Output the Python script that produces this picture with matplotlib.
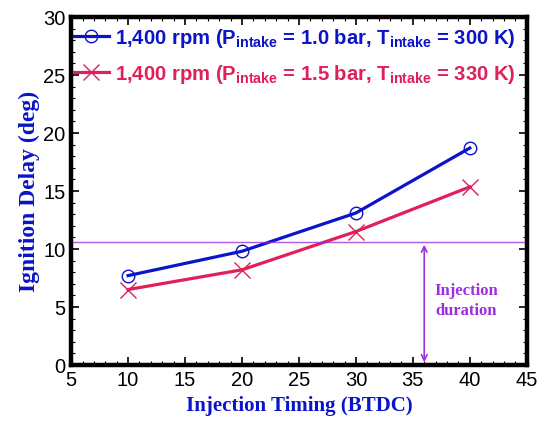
import matplotlib.pyplot as plt
from matplotlib.ticker import MultipleLocator

# Data
timing = [10, 20, 30, 40]
delay_1bar = [7.7, 9.8, 13.1, 18.7]
delay_15bar = [6.5, 8.2, 11.5, 15.35]
inj_level = 10.6
inj_x = 36

plt.rcParams['font.family'] = ['Liberation Sans', 'DejaVu Sans']
plt.rcParams['mathtext.fontset'] = 'custom'
plt.rcParams['mathtext.rm'] = 'Liberation Sans:bold'
plt.rcParams['mathtext.bf'] = 'Liberation Sans:bold'

blue = '#0a14c8'
red = '#e0205a'
purple = '#9a2ee0'

fig = plt.figure(figsize=(5.47, 4.27), dpi=100)
ax = fig.add_axes([0.130, 0.143, 0.833, 0.815])

ax.plot(timing, delay_1bar, color=blue, lw=2.3, marker='o', ms=9, mfc='none',
        mec=blue, mew=1.0,
        label=r'1,400 rpm (P$_{\mathrm{intake}}$ = 1.0 bar, T$_{\mathrm{intake}}$ = 300 K)')
ax.plot(timing, delay_15bar, color=red, lw=2.3, marker='x', ms=11, mew=1.0,
        label=r'1,400 rpm (P$_{\mathrm{intake}}$ = 1.5 bar, T$_{\mathrm{intake}}$ = 330 K)')

ax.axhline(inj_level, color=purple, lw=1.0, alpha=0.8)
ax.annotate('', xy=(inj_x, 0), xytext=(inj_x, inj_level),
            arrowprops=dict(arrowstyle='<->', color=purple, lw=1.2))
ax.text(39.7, 5.6, 'Injection\nduration', color=purple, fontsize=12,
        fontweight='bold', family='Liberation Serif', ha='center', va='center',
        linespacing=1.35)

ax.set_xlim(5, 45)
ax.set_ylim(0, 30)
ax.xaxis.set_major_locator(MultipleLocator(5))
ax.xaxis.set_minor_locator(MultipleLocator(1))
ax.yaxis.set_major_locator(MultipleLocator(5))
ax.yaxis.set_minor_locator(MultipleLocator(1))
ax.tick_params(which='both', direction='in', top=True, right=True, labelsize=14.5)
ax.tick_params(which='major', length=6, width=1.2, pad=4)
ax.tick_params(which='minor', length=3, width=0.8)
for s in ax.spines.values():
    s.set_linewidth(3.2)

ax.set_xlabel('Injection Timing (BTDC)', family='Liberation Serif', fontsize=15,
              fontweight='bold', color=blue, labelpad=4)
ax.set_ylabel('Ignition Delay (deg)', family='Liberation Serif', fontsize=17,
              fontweight='bold', color=blue, labelpad=2)

leg = ax.legend(loc='upper left', bbox_to_anchor=(0.0, 0.982), frameon=False,
                handlelength=1.7, handletextpad=0.3, borderaxespad=0.0,
                borderpad=0.15, labelspacing=0.65,
                prop={'weight': 'bold', 'size': 14.6})
for t, c in zip(leg.get_texts(), [blue, red]):
    t.set_color(c)

fig.savefig('out.png', dpi=100)
